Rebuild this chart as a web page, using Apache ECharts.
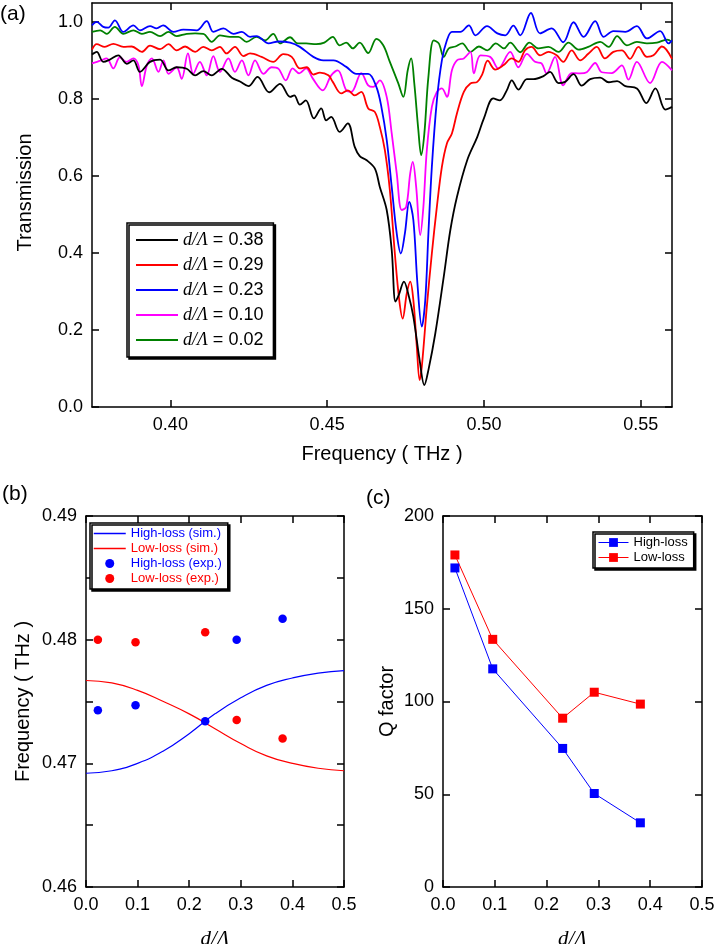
<!DOCTYPE html>
<html>
<head>
<meta charset="utf-8">
<script src="https://cdn.jsdelivr.net/npm/echarts@6/dist/echarts.min.js"></script>
<style>
  html, body { margin: 0; padding: 0; background: #fff; }
  #chart { width: 714px; height: 944px; }
</style>
</head>
<body>
<div id="chart"></div>
<script>
// (a) transmission spectra, [frequency THz, transmission]
var curve38 = [[0.375,0.916],[0.3765,0.923],[0.3786,0.897],[0.3807,0.903],[0.3834,0.914],[0.3861,0.892],[0.3882,0.901],[0.3903,0.871],[0.3935,0.897],[0.3967,0.903],[0.3994,0.875],[0.402,0.883],[0.4052,0.879],[0.4079,0.862],[0.4105,0.873],[0.4132,0.862],[0.4164,0.879],[0.4196,0.856],[0.4222,0.846],[0.4249,0.834],[0.4278,0.858],[0.4315,0.818],[0.435,0.84],[0.4382,0.806],[0.4395,0.81],[0.4413,0.786],[0.4432,0.797],[0.4458,0.75],[0.4481,0.776],[0.4497,0.745],[0.4513,0.754],[0.454,0.715],[0.4566,0.737],[0.4588,0.676],[0.4604,0.652],[0.4625,0.642],[0.4652,0.62],[0.4668,0.572],[0.469,0.512],[0.4706,0.408],[0.4718,0.274],[0.4728,0.29],[0.4745,0.326],[0.476,0.29],[0.4775,0.235],[0.4795,0.122],[0.481,0.057],[0.4823,0.096],[0.4845,0.191],[0.4872,0.339],[0.4893,0.46],[0.4914,0.546],[0.4947,0.642],[0.4979,0.702],[0.5,0.75],[0.503,0.802],[0.5051,0.797],[0.5073,0.823],[0.5089,0.849],[0.511,0.825],[0.5137,0.852],[0.5158,0.852],[0.519,0.86],[0.5211,0.871],[0.5238,0.842],[0.5259,0.845],[0.5286,0.865],[0.5312,0.835],[0.5339,0.852],[0.5371,0.856],[0.5398,0.844],[0.5425,0.847],[0.5451,0.834],[0.5488,0.828],[0.5518,0.79],[0.5547,0.828],[0.5579,0.773],[0.56,0.78]];
var curve29 = [[0.375,0.929],[0.3765,0.943],[0.3791,0.936],[0.3818,0.944],[0.385,0.936],[0.3877,0.937],[0.3909,0.923],[0.3935,0.939],[0.3967,0.93],[0.3994,0.943],[0.402,0.927],[0.4047,0.937],[0.4079,0.923],[0.4105,0.936],[0.4132,0.927],[0.4158,0.936],[0.4179,0.919],[0.4206,0.936],[0.4233,0.912],[0.4254,0.919],[0.4291,0.91],[0.4328,0.897],[0.436,0.917],[0.4387,0.91],[0.4413,0.88],[0.4435,0.883],[0.4456,0.864],[0.4477,0.869],[0.4504,0.862],[0.4518,0.845],[0.4545,0.815],[0.4566,0.823],[0.4588,0.81],[0.4609,0.819],[0.4631,0.776],[0.4652,0.767],[0.4668,0.728],[0.4684,0.668],[0.47,0.564],[0.4716,0.399],[0.473,0.278],[0.4741,0.23],[0.4754,0.295],[0.4765,0.326],[0.4775,0.278],[0.4786,0.157],[0.4795,0.07],[0.4802,0.105],[0.4818,0.261],[0.4834,0.399],[0.485,0.52],[0.4866,0.624],[0.4882,0.685],[0.4898,0.711],[0.4914,0.763],[0.4936,0.819],[0.4957,0.841],[0.4979,0.845],[0.4995,0.865],[0.5012,0.9],[0.5036,0.877],[0.5062,0.888],[0.5089,0.906],[0.511,0.897],[0.5131,0.927],[0.5152,0.936],[0.5179,0.914],[0.5206,0.923],[0.5232,0.914],[0.5253,0.897],[0.528,0.927],[0.5307,0.901],[0.5333,0.918],[0.536,0.936],[0.5386,0.906],[0.5413,0.923],[0.544,0.927],[0.5466,0.905],[0.5493,0.936],[0.552,0.91],[0.5541,0.914],[0.5568,0.937],[0.56,0.905]];
var curve23 = [[0.375,0.992],[0.3765,1.001],[0.3786,0.988],[0.3802,0.986],[0.3823,1.005],[0.385,0.975],[0.3882,0.992],[0.3903,0.979],[0.3935,0.99],[0.3956,0.984],[0.3977,0.992],[0.401,0.975],[0.4041,0.981],[0.4084,0.979],[0.4116,1.003],[0.4137,0.975],[0.4169,0.984],[0.4201,0.97],[0.4228,0.975],[0.4254,0.962],[0.4275,0.964],[0.4313,0.945],[0.4345,0.95],[0.4382,0.947],[0.4413,0.936],[0.4456,0.91],[0.4488,0.901],[0.452,0.901],[0.4561,0.884],[0.4593,0.866],[0.4631,0.866],[0.4657,0.832],[0.4673,0.78],[0.469,0.694],[0.4706,0.572],[0.4722,0.451],[0.4735,0.399],[0.4748,0.451],[0.4762,0.533],[0.4775,0.486],[0.4788,0.321],[0.4802,0.209],[0.4813,0.278],[0.4823,0.451],[0.4834,0.624],[0.485,0.797],[0.4866,0.901],[0.4882,0.953],[0.4898,0.975],[0.4925,0.975],[0.4952,0.992],[0.4973,0.966],[0.501,0.99],[0.5043,0.971],[0.5068,0.966],[0.5094,0.991],[0.5116,0.966],[0.515,1.024],[0.5179,0.971],[0.5216,0.984],[0.5253,0.948],[0.5286,1.0],[0.5318,0.962],[0.5355,1.003],[0.5382,0.962],[0.5413,0.977],[0.5451,0.975],[0.5488,0.99],[0.552,0.958],[0.5562,0.977],[0.5589,0.945],[0.56,0.953]];
var curve10 = [[0.375,0.893],[0.3776,0.9],[0.3797,0.906],[0.3818,0.88],[0.3839,0.909],[0.386,0.897],[0.3882,0.906],[0.3898,0.888],[0.3909,0.834],[0.3925,0.888],[0.3941,0.906],[0.3962,0.871],[0.3978,0.901],[0.3994,0.866],[0.402,0.883],[0.4036,0.853],[0.4056,0.919],[0.4073,0.866],[0.4094,0.897],[0.4116,0.862],[0.4137,0.912],[0.4158,0.871],[0.4185,0.906],[0.4206,0.871],[0.4228,0.901],[0.4249,0.862],[0.427,0.901],[0.4297,0.866],[0.4323,0.883],[0.4345,0.879],[0.4368,0.849],[0.439,0.88],[0.4411,0.867],[0.4433,0.88],[0.4454,0.854],[0.4486,0.823],[0.4513,0.862],[0.4534,0.875],[0.4561,0.823],[0.4577,0.819],[0.4609,0.868],[0.4631,0.836],[0.4647,0.832],[0.4668,0.849],[0.469,0.806],[0.4706,0.711],[0.4722,0.607],[0.4738,0.512],[0.4752,0.52],[0.4765,0.607],[0.4773,0.637],[0.4784,0.572],[0.4797,0.447],[0.4807,0.52],[0.4818,0.668],[0.4834,0.78],[0.485,0.819],[0.4866,0.828],[0.4882,0.806],[0.4898,0.875],[0.4914,0.901],[0.4936,0.906],[0.4957,0.923],[0.4968,0.867],[0.4989,0.914],[0.502,0.91],[0.5046,0.88],[0.5084,0.923],[0.511,0.883],[0.5137,0.918],[0.5163,0.897],[0.5184,0.893],[0.52,0.867],[0.5227,0.91],[0.5253,0.836],[0.528,0.868],[0.5307,0.867],[0.5328,0.87],[0.5355,0.894],[0.5376,0.87],[0.5408,0.868],[0.544,0.888],[0.5461,0.851],[0.5488,0.897],[0.553,0.842],[0.5568,0.897],[0.56,0.875]];
var curve02 = [[0.375,0.975],[0.3776,0.979],[0.3797,0.97],[0.3823,0.988],[0.385,0.97],[0.3882,0.979],[0.3909,0.97],[0.3935,0.975],[0.3967,0.964],[0.3994,0.975],[0.402,0.964],[0.4052,0.97],[0.4079,0.971],[0.4105,0.97],[0.4132,0.949],[0.4158,0.966],[0.419,0.962],[0.4217,0.962],[0.4243,0.949],[0.4275,0.962],[0.4302,0.953],[0.4328,0.97],[0.435,0.945],[0.4382,0.961],[0.4406,0.945],[0.4433,0.945],[0.4465,0.943],[0.4491,0.947],[0.4518,0.962],[0.454,0.94],[0.4561,0.947],[0.4582,0.932],[0.4604,0.947],[0.4631,0.92],[0.4657,0.957],[0.4679,0.94],[0.47,0.897],[0.4727,0.841],[0.4743,0.806],[0.4757,0.875],[0.4768,0.906],[0.4778,0.841],[0.4791,0.719],[0.48,0.655],[0.481,0.71],[0.4823,0.858],[0.484,0.953],[0.4856,0.945],[0.4872,0.91],[0.4888,0.932],[0.4909,0.937],[0.4931,0.945],[0.4957,0.923],[0.4984,0.937],[0.5011,0.927],[0.5038,0.945],[0.5064,0.932],[0.5084,0.947],[0.5116,0.922],[0.5145,0.947],[0.5174,0.932],[0.5206,0.936],[0.5238,0.923],[0.527,0.947],[0.5302,0.929],[0.5333,0.936],[0.5371,0.949],[0.5398,0.936],[0.5425,0.964],[0.5456,0.94],[0.5488,0.949],[0.552,0.945],[0.5552,0.947],[0.5584,0.955],[0.56,0.949]];
var curveNames = ['d/Λ = 0.38', 'd/Λ = 0.29', 'd/Λ = 0.23', 'd/Λ = 0.10', 'd/Λ = 0.02'];

// (b) resonance frequency vs d/Λ
var dSim = [0, 0.05, 0.1, 0.15, 0.2, 0.25, 0.3, 0.35, 0.4, 0.45, 0.5];
var freqHighSim = [0.4692, 0.4694, 0.4700, 0.4710, 0.4724, 0.4740, 0.4753, 0.4763, 0.4769, 0.4773, 0.4775];
var freqLowSim = [0.4767, 0.4765, 0.4759, 0.4750, 0.4740, 0.4728, 0.4716, 0.4706, 0.4700, 0.4696, 0.4694];
var dExp = [0.023, 0.096, 0.231, 0.292, 0.381];
var freqHighExp = [0.4743, 0.4747, 0.4734, 0.4800, 0.4817];
var freqLowExp = [0.4800, 0.4798, 0.4806, 0.4735, 0.4720];

// (c) Q factor vs d/Λ
var qHigh = [172, 117.6, 74.7, 50.4, 34.6];
var qLow = [179, 133.5, 91, 105, 98.6];

// tick values
var ticksAX = [0.40, 0.45, 0.50, 0.55];
var ticksAY = [0, 0.2, 0.4, 0.6, 0.8, 1.0];
var ticksD = [0, 0.1, 0.2, 0.3, 0.4, 0.5];
var ticksBY = [0.46, 0.47, 0.48, 0.49];
var ticksBYminor = [0.46, 0.465, 0.47, 0.475, 0.48, 0.485, 0.49];
var ticksCY = [0, 50, 100, 150, 200];

var SANS = 'Liberation Sans';
var SERIF = 'Liberation Serif';

function zip(xs, ys) {
  return xs.map(function (x, i) { return [x, ys[i]]; });
}

function axis(gridIndex, position, min, max, ticks, labels, digits, extra) {
  var a = {
    type: 'value', gridIndex: gridIndex, position: position, min: min, max: max,
    axisLine: { show: true, onZero: false, lineStyle: { color: '#000', width: 1.5 } },
    splitLine: { show: false },
    axisTick: { show: true, inside: true, length: 7, customValues: ticks, lineStyle: { color: '#000', width: 1.5 } },
    axisLabel: labels ? {
      customValues: labels, color: '#000', fontFamily: SANS, fontSize: 18, margin: 9,
      formatter: function (v) { return (+v).toFixed(digits); }
    } : { show: false }
  };
  for (var k in extra) a[k] = extra[k];
  return a;
}

var nameSans = { fontFamily: SANS, fontSize: 20, color: '#000' };
var nameItalic = { fontFamily: SERIF, fontStyle: 'italic', fontSize: 21, color: '#000' };

var colorsA = ['#000000', '#ff0000', '#0000ff', '#ff00ff', '#008000'];
var curvesA = [curve38, curve29, curve23, curve10, curve02];

var series = curvesA.map(function (c, i) {
  return {
    name: curveNames[i], type: 'line', xAxisIndex: 0, yAxisIndex: 0,
    data: c, smooth: 0.35, symbol: 'none', color: colorsA[i],
    lineStyle: { width: 1.8, color: colorsA[i] }, z: 10 - i
  };
});

series.push(
  { name: 'High-loss (sim.)', type: 'line', xAxisIndex: 2, yAxisIndex: 2, data: zip(dSim, freqHighSim),
    smooth: true, symbol: 'none', color: '#0000ff', lineStyle: { width: 1.2, color: '#0000ff' } },
  { name: 'Low-loss (sim.)', type: 'line', xAxisIndex: 2, yAxisIndex: 2, data: zip(dSim, freqLowSim),
    smooth: true, symbol: 'none', color: '#ff0000', lineStyle: { width: 1.2, color: '#ff0000' } },
  { name: 'High-loss (exp.)', type: 'scatter', xAxisIndex: 2, yAxisIndex: 2, data: zip(dExp, freqHighExp),
    symbol: 'circle', symbolSize: 8.5, itemStyle: { color: '#0000ff', opacity: 1 }, z: 5 },
  { name: 'Low-loss (exp.)', type: 'scatter', xAxisIndex: 2, yAxisIndex: 2, data: zip(dExp, freqLowExp),
    symbol: 'circle', symbolSize: 8.5, itemStyle: { color: '#ff0000', opacity: 1 }, z: 5 },
  { name: 'High-loss', type: 'line', xAxisIndex: 4, yAxisIndex: 4, data: zip(dExp, qHigh),
    symbol: 'rect', symbolSize: 9, showSymbol: true, color: '#0000ff',
    lineStyle: { width: 1, color: '#0000ff' }, itemStyle: { color: '#0000ff' } },
  { name: 'Low-loss', type: 'line', xAxisIndex: 4, yAxisIndex: 4, data: zip(dExp, qLow),
    symbol: 'rect', symbolSize: 9, showSymbol: true, color: '#ff0000',
    lineStyle: { width: 1, color: '#ff0000' }, itemStyle: { color: '#ff0000' } }
);

var legendBox = {
  orient: 'vertical', borderColor: '#000', borderWidth: 1.5, borderRadius: 0,
  backgroundColor: '#fff', shadowColor: '#000', shadowBlur: 0, shadowOffsetX: 2, shadowOffsetY: 2,
  selectedMode: false, itemGap: 4
};
function legend(opts) {
  var l = {};
  for (var k in legendBox) l[k] = legendBox[k];
  for (var j in opts) l[j] = opts[j];
  return l;
}

// line-only legend entries: hide the marker, keep the line
var noMarker = { opacity: 0 };

var chart = echarts.init(document.getElementById('chart'), null, { renderer: 'canvas' });
chart.setOption({
  animation: false,
  backgroundColor: '#fff',
  title: [
    { text: '(a)', left: 0, top: 4, padding: 0, textStyle: { fontFamily: SANS, fontSize: 21, fontWeight: 'normal', color: '#000' } },
    { text: '(b)', left: 2, top: 484, padding: 0, textStyle: { fontFamily: SANS, fontSize: 21, fontWeight: 'normal', color: '#000' } },
    { text: '(c)', left: 366, top: 488, padding: 0, textStyle: { fontFamily: SANS, fontSize: 21, fontWeight: 'normal', color: '#000' } }
  ],
  grid: [
    { left: 92, top: 3, width: 580, height: 404, outerBoundsMode: 'none' },
    { left: 86, top: 516, width: 258, height: 371, outerBoundsMode: 'none' },
    { left: 443, top: 516, width: 259, height: 371, outerBoundsMode: 'none' }
  ],
  xAxis: [
    axis(0, 'bottom', 0.375, 0.56, ticksAX, ticksAX, 2, {
      name: 'Frequency ( THz )', nameLocation: 'middle', nameGap: 37, nameTextStyle: nameSans }),
    axis(0, 'top', 0.375, 0.56, ticksAX, null, 2),
    axis(1, 'bottom', 0, 0.5, ticksD, ticksD, 1, {
      name: 'd/Λ', nameLocation: 'middle', nameGap: 42, nameTextStyle: nameItalic }),
    axis(1, 'top', 0, 0.5, ticksD, null, 1),
    axis(2, 'bottom', 0, 0.5, ticksD, ticksD, 1, {
      name: 'd/Λ', nameLocation: 'middle', nameGap: 42, nameTextStyle: nameItalic }),
    axis(2, 'top', 0, 0.5, ticksD, null, 1)
  ],
  yAxis: [
    axis(0, 'left', 0, 1.05, ticksAY, ticksAY, 1, {
      name: 'Transmission', nameLocation: 'middle', nameGap: 57,
      nameTextStyle: { fontFamily: SANS, fontSize: 20, color: '#000', padding: [0, 0, 0, 25] } }),
    axis(0, 'right', 0, 1.05, ticksAY, null, 1),
    axis(1, 'left', 0.46, 0.49, ticksBYminor, ticksBY, 2, {
      name: 'Frequency ( THz )', nameLocation: 'middle', nameGap: 53, nameTextStyle: nameSans }),
    axis(1, 'right', 0.46, 0.49, ticksBYminor, null, 2),
    axis(2, 'left', 0, 200, ticksCY, ticksCY, 0, {
      name: 'Q factor', nameLocation: 'middle', nameGap: 46, nameTextStyle: nameSans }),
    axis(2, 'right', 0, 200, ticksCY, null, 0)
  ],
  legend: [
    legend({
      left: 127, top: 223, data: curveNames, itemWidth: 42, itemHeight: 14, itemGap: 7,
      padding: [8, 10, 8, 8], lineStyle: { width: 2 }, itemStyle: noMarker,
      formatter: function (n) { return n.replace('d/Λ', '{i|d/Λ}'); },
      textStyle: { fontFamily: SANS, fontSize: 18, color: '#000',
        rich: { i: { fontFamily: SERIF, fontStyle: 'italic', fontSize: 18, color: '#000' } } }
    }),
    legend({
      left: 90, top: 523, itemWidth: 32, itemHeight: 9, itemGap: 2, padding: [4, 6, 4, 3],
      lineStyle: { width: 1.5 },
      textStyle: { fontFamily: SANS, fontSize: 13 },
      data: [
        { name: 'High-loss (sim.)', textStyle: { color: '#0000ff' }, itemStyle: noMarker },
        { name: 'Low-loss (sim.)', textStyle: { color: '#ff0000' }, itemStyle: noMarker },
        { name: 'High-loss (exp.)', textStyle: { color: '#0000ff' } },
        { name: 'Low-loss (exp.)', textStyle: { color: '#ff0000' } }
      ]
    }),
    legend({
      left: 593, top: 532, itemWidth: 30, itemHeight: 11, itemGap: 2, padding: [4, 6, 4, 5],
      lineStyle: { width: 1 },
      textStyle: { fontFamily: SANS, fontSize: 13, color: '#000' },
      data: ['High-loss', 'Low-loss']
    })
  ],
  series: series
});
</script>
</body>
</html>
